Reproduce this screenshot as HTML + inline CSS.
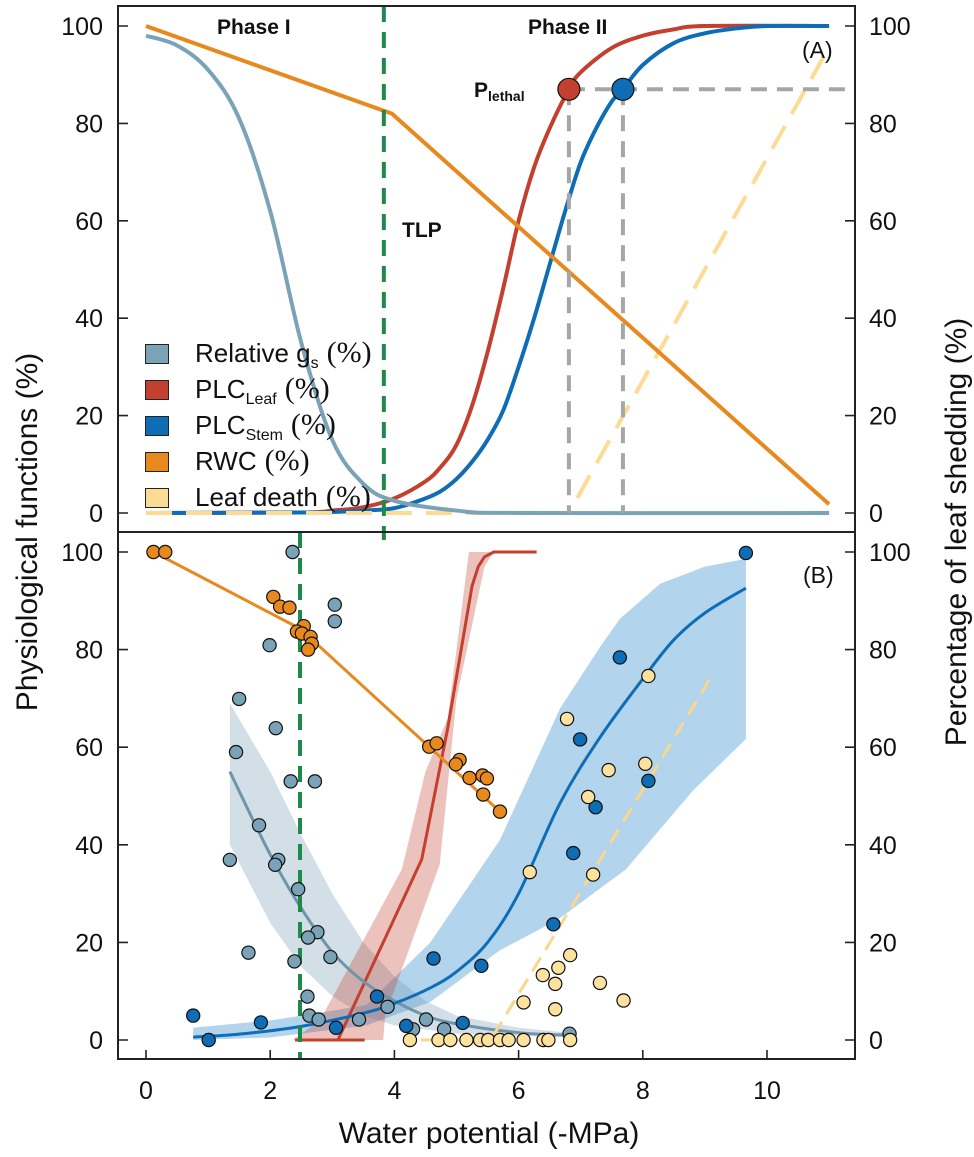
<!DOCTYPE html>
<html><head><meta charset="utf-8">
<style>
html,body{margin:0;padding:0;background:#fff;}
body{width:974px;height:1157px;position:relative;overflow:hidden;font-family:"Liberation Sans",sans-serif;}
svg{position:absolute;left:0;top:0;}
.leg{position:absolute;left:195px;font-size:26px;color:#111;white-space:nowrap;line-height:1;}
.leg sub{font-size:16px;vertical-align:-6px;}
.leg .pc{font-family:"Liberation Serif",serif;font-size:30px;margin-left:8px;}
.sw{position:absolute;left:145px;width:22px;height:18px;border:1px solid #222;}
</style></head>
<body>
<svg id="chart" width="974" height="1157"></svg>
<div class="sw" style="top:344px;background:#7ba3b8"></div>
<div class="leg" style="top:338px">Relative g<sub>s</sub><span class="pc">(%)</span></div>
<div class="sw" style="top:380px;background:#c4402e"></div>
<div class="leg" style="top:374px">PLC<sub>Leaf</sub><span class="pc">(%)</span></div>
<div class="sw" style="top:416px;background:#0f6db5"></div>
<div class="leg" style="top:410px">PLC<sub>Stem</sub><span class="pc">(%)</span></div>
<div class="sw" style="top:452px;background:#e8891e"></div>
<div class="leg" style="top:446px">RWC<span class="pc">(%)</span></div>
<div class="sw" style="top:488px;background:#fcdc94"></div>
<div class="leg" style="top:482px">Leaf death<span class="pc">(%)</span></div>
<script>
// ---------- data ----------
const xTicks=[0,2,4,6,8,10];
const yTicks=[0,20,40,60,80,100];
// Panel A model curves [water potential, %]
const aGs=[[0,98],[0.5,96],[1,91],[1.5,81],[2,62],[2.5,35],[3,15],[3.5,6],[4,2.5],[5,0.5],[6,0],[11,0]];
const aLeaf=[[0,0],[2.5,0.1],[3,0.5],[3.5,1.2],[4,3],[4.5,6.5],[4.75,9.5],[5,14],[5.25,22],[5.5,33],[5.75,46],[6,60],[6.25,71],[6.5,79],[6.81,87],[7,90.5],[7.5,95.5],[8,98],[8.5,99.3],[9,100],[11,100]];
const aStem=[[0,0],[2.5,0.1],[3,0.2],[3.5,0.5],[4,1],[4.5,3],[4.75,4.5],[5,7],[5.25,10.5],[5.5,15],[5.75,21],[6,30],[6.25,40],[6.5,51],[6.75,62],[7,72],[7.25,79],[7.5,84.5],[7.68,87],[8,92],[8.5,96.5],[9,98.5],[9.5,99.5],[10,100],[11,100]];
const aRwc=[[0,100],[3.96,82],[11,1.8]];
const aDeath=[[0,0],[6.81,0],[10.97,95]];
const tlpA=3.83;
const plethalLeaf=[6.81,87];
const plethalStem=[7.68,87];
// Panel B
const tlpB=2.48;
const bRwcPts=[[0.12,100],[0.31,100],[2.05,90.8],[2.16,88.8],[2.31,88.6],[2.54,84.8],[2.43,83.7],[2.51,83.3],[2.65,82.6],[2.67,81.2],[2.61,80],[4.56,60.1],[4.68,60.8],[5.05,57.4],[4.99,56.5],[5.21,53.7],[5.42,54.2],[5.49,53.6],[5.43,50.3],[5.70,46.8]];
const bRwcLine=[[0.12,100],[2.48,84.3],[5.7,46.8]];
const bGsPts=[[2.36,100],[3.04,89.2],[3.04,85.8],[1.99,80.9],[1.50,69.9],[2.09,63.9],[1.45,59],[2.33,53],[2.72,53],[1.82,44],[1.35,36.9],[2.13,36.9],[2.08,35.9],[2.45,30.9],[2.76,22.1],[2.61,21],[2.97,17],[1.65,17.9],[2.39,16.1],[2.60,8.9],[2.63,5],[2.78,4.2],[3.43,4.2],[3.89,6.8],[4.51,4.2],[4.30,2.2],[4.80,2.2],[6.82,1.3]];
const bGsLine=[[1.35,55],[2,38],[2.5,27],[3,18],[3.5,12],[4,8],[4.5,5],[5,3.3],[6,1.5],[6.8,1]];
const bGsUpper=[[1.35,69],[2,55],[2.5,42],[3,30],[3.5,20],[4,13],[4.5,8],[5,5],[6,2.5],[6.8,1.5]];
const bGsLower=[[1.35,40],[2,24],[2.5,15],[3,9],[3.5,5],[4,3],[5,1.3],[6.8,0.5]];
const bLeafLine=[[3.09,0],[4.44,37],[4.86,64],[5.25,93],[5.35,97],[5.45,99],[5.6,100],[6.29,100]];
const bLeafBase=[[2.4,0],[3.52,0]];
const bLeafUpper=[[2.36,0],[2.8,4],[4.12,35],[4.5,55],[4.86,66],[5.1,90],[5.2,100],[6.64,100]];
const bLeafLower=[[3.82,0],[3.85,5],[4.73,36],[5.0,70],[5.45,97],[5.6,100],[6.64,100]];
const bStemPts=[[0.76,5],[1.01,0],[1.85,3.6],[3.06,2.5],[3.72,8.9],[4.19,2.9],[4.63,16.7],[5.10,3.5],[5.40,15.2],[6.56,23.7],[6.88,38.3],[6.99,61.6],[7.24,47.7],[7.63,78.4],[8.09,53.1],[9.66,99.8]];
const bStemLine=[[0.76,0.6],[1.5,1.2],[2.5,2.8],[3.5,5.5],[4,7.5],[4.58,10.7],[5,14],[5.5,20],[6,30],[6.67,48.6],[7.31,62],[8,74],[8.5,82],[9,87.5],[9.66,92.6]];
const bStemUpper=[[0.76,2.5],[2,4],[3,6],[3.55,7.2],[4.58,20],[5.7,41],[6.67,68],[7.31,80.5],[7.63,86.3],[8.28,93.5],[9,97],[9.66,98.6]];
const bStemLower=[[0.76,0],[2,0.5],[3.55,3],[4.58,7.8],[5.7,18.4],[6.24,22],[6.67,25],[7.73,35],[8.8,51],[9.66,61.7]];
const bDeathPts=[[4.25,0],[4.71,0],[4.90,0],[5.16,0],[5.38,0],[5.51,0],[5.70,0],[5.84,0],[6.08,0],[6.40,0],[6.48,0],[6.83,0],[6.08,7.7],[6.39,13.3],[6.59,11.5],[6.59,6.3],[6.64,14.8],[6.83,17.4],[6.18,34.4],[6.78,65.8],[7.12,49.8],[7.20,33.9],[7.31,11.7],[7.45,55.3],[8.04,56.6],[8.09,74.6],[7.69,8.1]];
const bDeathLine=[[4.43,0],[5.55,0],[9.11,74.6]];

// ---------- axes ----------
const L=118,R=855,TA=6,MID=532,BB=1059;
const x=v=>146+62.1*v;
const yA=v=>513-4.87*v;
const yB=v=>1040-4.88*v;
const NS="http://www.w3.org/2000/svg";
const svg=document.getElementById('chart');
function el(tag,attrs,parent){const e=document.createElementNS(NS,tag);for(const k in attrs)e.setAttribute(k,attrs[k]);(parent||svg).appendChild(e);return e;}
const defs=el('defs',{});
const cA=el('clipPath',{id:'clipA'},defs);el('rect',{x:L,y:TA,width:R-L,height:MID-TA},cA);
const cB=el('clipPath',{id:'clipB'},defs);el('rect',{x:L,y:MID,width:R-L,height:BB-MID},cB);
const gA=el('g',{'clip-path':'url(#clipA)'});


const gB=el('g',{'clip-path':'url(#clipB)'});



function smooth(pts,ys){
  const p=pts.map(d=>[x(d[0]),ys(d[1])]);
  let s='M'+p[0][0]+','+p[0][1];
  for(let i=0;i<p.length-1;i++){
    const p0=p[i-1]||p[i],p1=p[i],p2=p[i+1],p3=p[i+2]||p2;
    const c1=[p1[0]+(p2[0]-p0[0])/6,p1[1]+(p2[1]-p0[1])/6];
    const c2=[p2[0]-(p3[0]-p1[0])/6,p2[1]-(p3[1]-p1[1])/6];
    s+=`C${c1[0]},${c1[1]} ${c2[0]},${c2[1]} ${p2[0]},${p2[1]}`;
  }
  return s;
}
function lin(pts,ys){return 'M'+pts.map(d=>x(d[0])+','+ys(d[1])).join('L');}
function band(up,lo,ys){return lin(up,ys)+'L'+lo.slice().reverse().map(d=>x(d[0])+','+ys(d[1])).join('L')+'Z';}

// ---------- Panel A ----------
let e;
e=el('line',{x1:x(tlpA),x2:x(tlpA),y1:TA,y2:MID+8,stroke:'#1e8a4a','stroke-width':4,'stroke-dasharray':'16,10'});


e=el('path',{d:smooth(aLeaf,yA),fill:'none',stroke:'#c4402e','stroke-width':4},gA);


e=el('path',{d:smooth(aStem,yA),fill:'none',stroke:'#0f6db5','stroke-width':4},gA);


e=el('path',{d:lin(aDeath,yA),fill:'none',stroke:'#fcdc94','stroke-width':4,'stroke-dasharray':'26,14'},gA);


e=el('path',{d:smooth(aGs,yA),fill:'none',stroke:'#7ba3b8','stroke-width':4},gA);


e=el('path',{d:lin(aRwc,yA),fill:'none',stroke:'#e8891e','stroke-width':4},gA);


const gd={stroke:'#a6a6a6','stroke-width':4,'stroke-dasharray':'16,10',fill:'none'};
e=el('path',Object.assign({d:`M${x(plethalLeaf[0])},${yA(plethalLeaf[1])}H${R}`},gd),gA);


e=el('path',Object.assign({d:`M${x(plethalLeaf[0])},${yA(plethalLeaf[1])}V${yA(0)}`},gd),gA);


e=el('path',Object.assign({d:`M${x(plethalStem[0])},${yA(plethalStem[1])}V${yA(0)}`},gd),gA);


e=el('circle',{cx:x(plethalLeaf[0]),cy:yA(plethalLeaf[1]),r:11,fill:'#c4402e',stroke:'#111','stroke-width':1.2},gA);


e=el('circle',{cx:x(plethalStem[0]),cy:yA(plethalStem[1]),r:11,fill:'#0f6db5',stroke:'#111','stroke-width':1.2},gA);



function txt(s,attrs,name){const t=el('text',attrs);t.textContent=s;return t;}
txt('Phase I',{x:217,y:34,'font-size':21,'font-weight':'bold',fill:'#111'},'phase-i-label');
txt('Phase II',{x:528,y:34,'font-size':21,'font-weight':'bold',fill:'#111'},'phase-ii-label');
txt('TLP',{x:402,y:237,'font-size':21,'font-weight':'bold',fill:'#111'},'tlp-label');
const pl=txt('P',{x:474,y:97,'font-size':21,'font-weight':'bold',fill:'#111'},'plethal-label');
const ps=el('tspan',{'font-size':14,dy:4},pl);ps.textContent='lethal';
txt('(A)',{x:802,y:58,'font-size':23,fill:'#111'},'panel-a-label');
txt('(B)',{x:803,y:583,'font-size':23,fill:'#111'},'panel-b-label');

// ---------- Panel B ----------
function addPath(d,attrs,name,g){const p=el('path',Object.assign({d:d},attrs),g);return p;}
addPath(band(bStemUpper,bStemLower,yB),{fill:'rgba(15,120,195,0.32)'},'plc-stem-band',gB);
addPath(band(bGsUpper,bGsLower,yB),{fill:'rgba(110,150,175,0.3)'},'gs-band',gB);
addPath(band(bLeafUpper,bLeafLower,yB),{fill:'rgba(196,64,46,0.32)'},'plc-leaf-band',gB);
addPath(lin(bLeafBase,yB),{fill:'none',stroke:'#c4402e','stroke-width':3},'plc-leaf-base',gB);
addPath(lin(bLeafLine,yB),{fill:'none',stroke:'#c4402e','stroke-width':3},'plc-leaf-line-b',gB);
addPath(smooth(bGsLine,yB),{fill:'none',stroke:'#6f95aa','stroke-width':3},'gs-fit-line',gB);
addPath(smooth(bStemLine,yB),{fill:'none',stroke:'#0f6db5','stroke-width':3},'plc-stem-fit-line',gB);
addPath(lin(bDeathLine,yB),{fill:'none',stroke:'#fcd68a','stroke-width':3,'stroke-dasharray':'16,9'},'leaf-death-fit-line',gB);
addPath(lin(bRwcLine,yB),{fill:'none',stroke:'#e8891e','stroke-width':3},'rwc-fit-line',gB);
addPath(`M${x(tlpB)},${MID}V${BB}`,{fill:'none',stroke:'#1e8a4a','stroke-width':4,'stroke-dasharray':'16,10'},'tlp-line-b',gB);
function pts(arr,fill,name){arr.forEach(d=>{const c=el('circle',{cx:x(d[0]),cy:yB(d[1]),r:6.6,fill:fill,stroke:'#111','stroke-width':1.2},gB);});}
pts(bGsPts,'#7ba3b8','gs-point');
pts(bStemPts,'#0f6db5','plc-stem-point');
pts(bDeathPts,'#fde29e','leaf-death-point');
pts(bRwcPts,'#e8891e','rwc-point');

// ---------- frames & ticks ----------
addPath(`M${L},${TA}H${R}V${BB}H${L}Z M${L},${MID}H${R}`,{fill:'none',stroke:'#222','stroke-width':2},'plot-frame');
yTicks.forEach(t=>{
  [[yA(t),'a'],[yB(t),'b']].forEach(([yy,p])=>{
    addPath(`M${L},${yy}h10M${R},${yy}h-10`,{stroke:'#222','stroke-width':1.6},'y-tick-'+p);
    txt(String(t),{x:103,y:yy+9,'font-size':25,'text-anchor':'end',fill:'#111'},'left-y-tick-label');
    txt(String(t),{x:869,y:yy+9,'font-size':25,fill:'#111'},'right-y-tick-label');
  });
});
xTicks.forEach(t=>{
  addPath(`M${x(t)},${BB}v-9`,{stroke:'#222','stroke-width':1.6},'x-tick');
  txt(String(t),{x:x(t),y:1099,'font-size':25,'text-anchor':'middle',fill:'#111'},'x-tick-label');
});
txt('Water potential (-MPa)',{x:489,y:1143,'font-size':30,'text-anchor':'middle',fill:'#111'},'x-axis-title');
txt('Physiological functions (%)',{x:0,y:0,'font-size':30,'text-anchor':'middle',fill:'#111',transform:'translate(37,532) rotate(-90)'},'left-y-axis-title');
txt('Percentage of leaf shedding (%)',{x:0,y:0,'font-size':30,'text-anchor':'middle',fill:'#111',transform:'translate(966,532) rotate(-90)'},'right-y-axis-title');
</script>
</body></html>
